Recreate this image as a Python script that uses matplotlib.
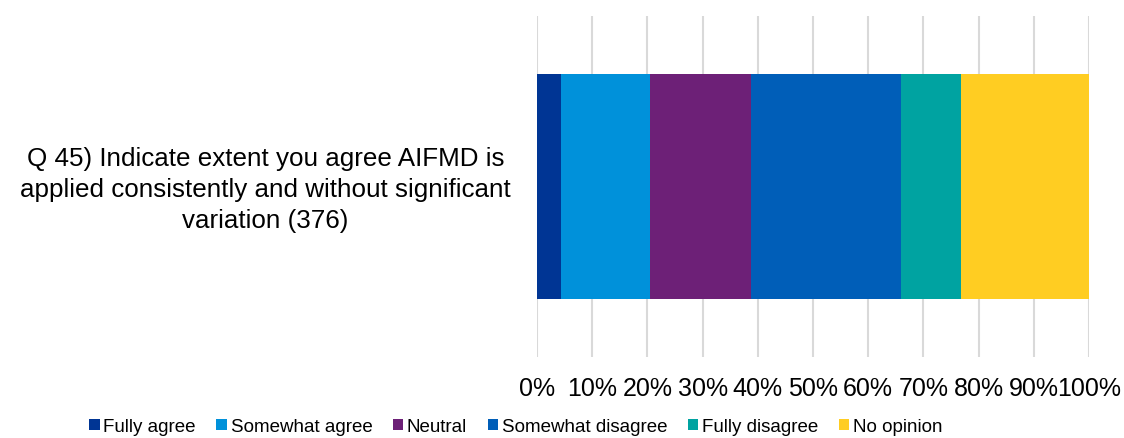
import matplotlib
matplotlib.use("Agg")
import matplotlib.pyplot as plt
from matplotlib.ticker import PercentFormatter

plt.rcParams['font.family'] = ['Liberation Sans', 'DejaVu Sans']

question = "Q 45) Indicate extent you agree AIFMD is\napplied consistently and without significant\nvariation (376)"
categories = ["Fully agree", "Somewhat agree", "Neutral",
              "Somewhat disagree", "Fully disagree", "No opinion"]
counts = [16, 61, 69, 102, 41, 87]
colors = ["#003594", "#0091DA", "#6D2077", "#005EB8", "#00A3A1", "#FFCD22"]

total = sum(counts)
shares = [c / total for c in counts]

fig = plt.figure(figsize=(11.24, 4.39), dpi=100)
ax = fig.add_axes([0.4778, 0.1845, 0.4911, 0.7768])

left = 0.0
for name, share, col in zip(categories, shares, colors):
    ax.barh(0, share, left=left, height=0.66, color=col, label=name, zorder=3)
    left += share

ax.set_xlim(0, 1)
ax.set_ylim(-0.5, 0.5)
ax.set_xticks([i / 10 for i in range(11)])
ax.xaxis.set_major_formatter(PercentFormatter(1.0, decimals=0))
ax.tick_params(axis='x', length=0, pad=14, labelsize=18)
ax.set_yticks([])
ax.grid(axis='x', color='#d9d9d9', linewidth=1.5, zorder=0)
for s in ax.spines.values():
    s.set_visible(False)

fig.text(0.236, 0.567, question, ha='center', va='center', multialignment='center',
         fontsize=18.7, linespacing=1.38)

handles, labels = ax.get_legend_handles_labels()
fig.legend(handles, labels, loc='lower center', bbox_to_anchor=(0.459, -0.032),
           ncol=6, frameon=False, fontsize=13.5, handlelength=0.55, handleheight=0.55,
           handletextpad=0.2, columnspacing=1.1)

fig.savefig("out.png", dpi=100)
